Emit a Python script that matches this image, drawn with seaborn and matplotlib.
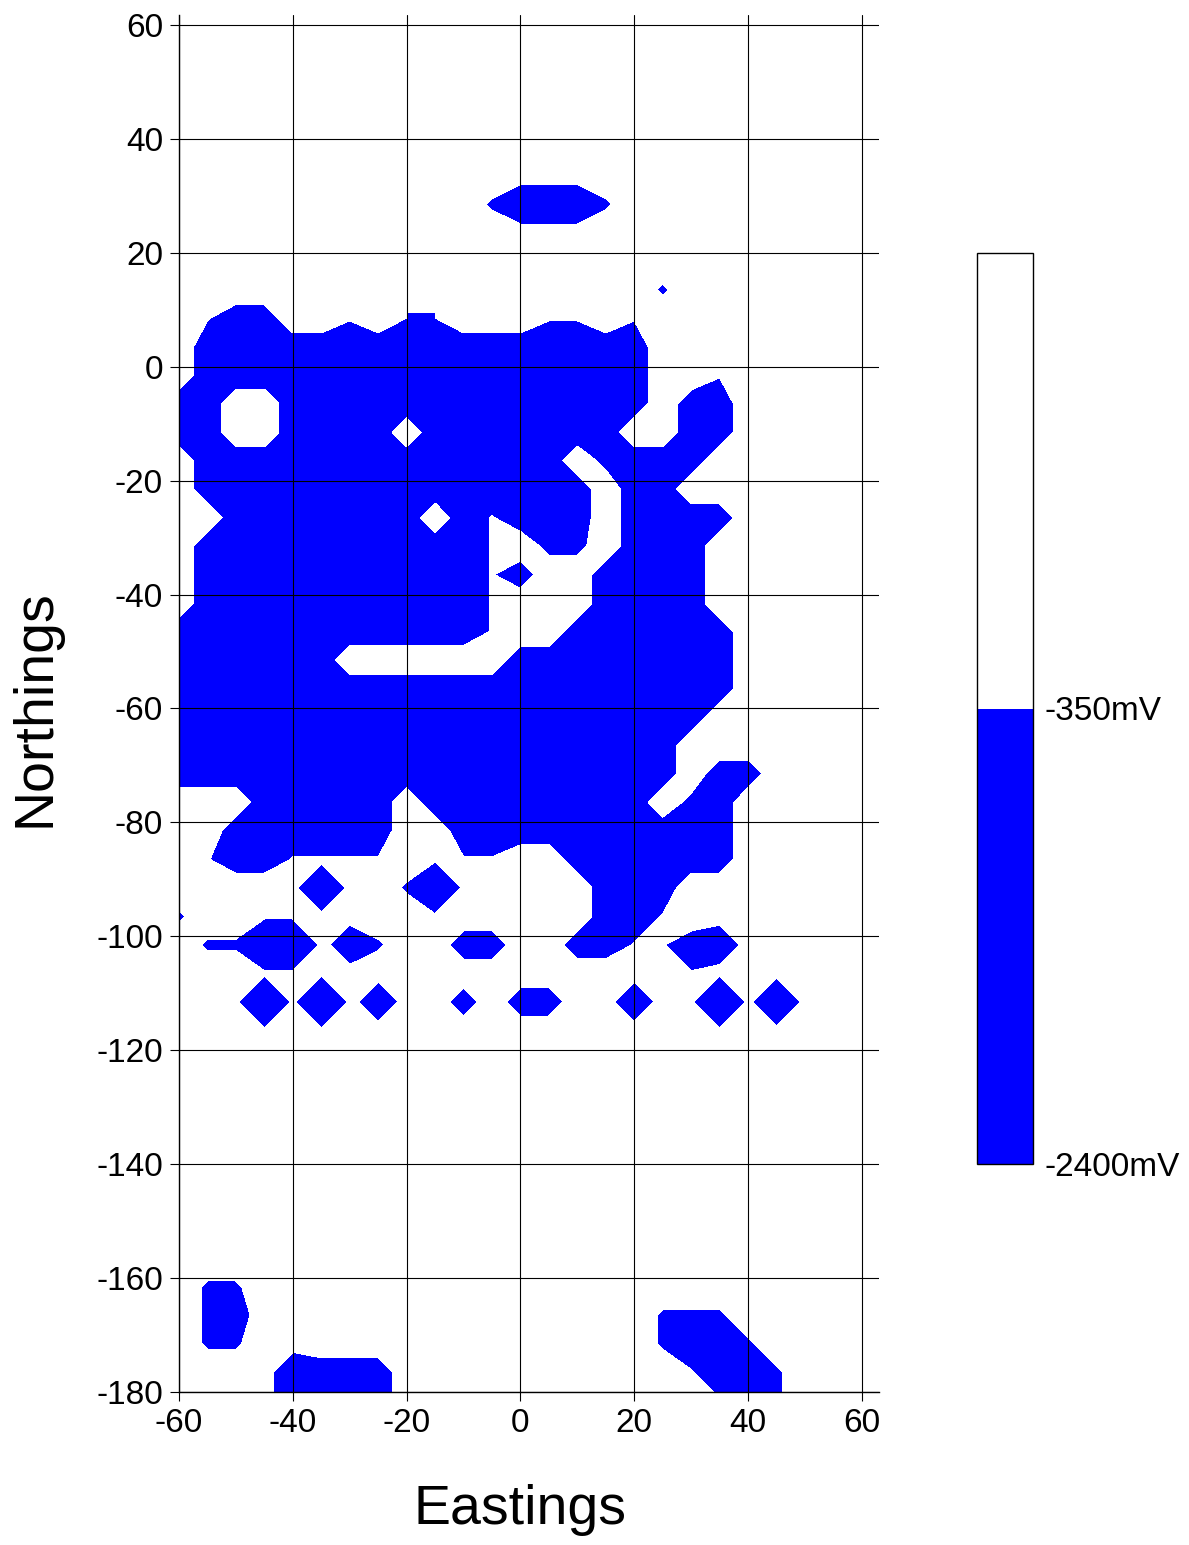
import numpy as np
import matplotlib
matplotlib.use("Agg")
import matplotlib.pyplot as plt
import seaborn as sns

# survey grid (m)
x_east = [-60, -55, -50, -45, -40, -35, -30, -25, -20, -15, -10, -5,
          0, 5, 10, 15, 20, 25, 30, 35, 40, 45, 50]
y_north = [33.5, 28.5, 23.5, 18.5, 13.5, 8.5, 3.5, -1.5, -6.5, -11.5,
           -16.5, -21.5, -26.5, -31.5, -36.5, -41.5, -46.5, -51.5, -56.5,
           -61.5, -66.5, -71.5, -76.5, -81.5, -86.5, -91.5, -96.5, -101.5,
           -106.5, -111.5, -116.5, -121.5, -126.5, -131.5, -136.5, -141.5,
           -146.5, -151.5, -156.5, -161.5, -166.5, -171.5, -176.5, -181.5]

# potential class per grid node, one string per northing (west -> east)
potential_codes = [
    ".......................",
    "...........-+++-.......",
    ".......................",
    ".......................",
    "ooooo............-.....",
    "o.##oo.o--ooo..o.......",
    "o################o.....",
    "o################oo....",
    "##oo#############o##ooo",
    "##oo####o#######oo##ooo",
    "o#############oX###oooo",
    "o##############o##ooooo",
    "oo#######o#.###o####ooo",
    "o##########.oXXo###oooo",
    "o##########.#oo####oooo",
    "o##########.ooo####oooo",
    "###########.oo######ooo",
    "######oooooo########ooo",
    "####################ooo",
    "###################oooo",
    "##################ooooo",
    "##################o##oo",
    "ooo#####o########oX#ooo",
    ".o######oo##########o..",
    "..##........oo######o..",
    "..oo.X..-#....o###oo...",
    "-.............o##.o....",
    ".--##.+-..::.o##..#+...",
    "..............oo.......",
    "...#.#.+..:.::..+..#.X.",
    ".......................",
    ".......................",
    ".......................",
    ".......................",
    ".......................",
    ".......................",
    ".......................",
    ".......................",
    ".......................",
    ".--....................",
    ".-:..............---...",
    ".--..............-##-..",
    "....+:::...........##-.",
    "....+:::............#-.",
]

# mV value for each class
code_mv = {"#": -2400, "X": -1400, "+": -800, ":": -550, "-": -400,
           ".": -150, "o": 1800}

levels = [-2400, -350, 2000]
level_colors = ["blue", "white"]

z = np.array([[code_mv[c] for c in row] for row in potential_codes], dtype=float)

sns.set_style("ticks")
plt.rcParams["font.family"] = ["Liberation Sans", "DejaVu Sans"]
plt.rcParams["axes.unicode_minus"] = False
for key in ["text.color", "axes.labelcolor", "xtick.color", "ytick.color"]:
    plt.rcParams[key] = "black"

fig = plt.figure(figsize=(11.89, 15.45), dpi=100)
ax = fig.add_axes([179 / 1189, 1 - 1392 / 1545, 700 / 1189, 1377 / 1545])

cs = ax.contourf(x_east, y_north, z, levels=levels, colors=level_colors)

# grid runs a little past the last labelled values, as in the original
ax.set_xlim(-60, 63)
ax.set_ylim(-180, 61.75)
ax.set_xticks(np.arange(-60, 61, 20))
ax.set_yticks(np.arange(-180, 61, 20))
ax.grid(True, color="black", linewidth=0.8)
ax.set_axisbelow(False)
for side in ["top", "right"]:
    ax.spines[side].set_visible(False)
for side in ["left", "bottom"]:
    ax.spines[side].set_linewidth(1.0)
    ax.spines[side].set_color("black")
ax.tick_params(direction="out", length=6.5, width=0.8, labelsize=24,
               colors="black", pad=5)

fig.text(520 / 1189, 1 - 1510 / 1545, "Eastings", fontsize=40,
         ha="center", va="center")
fig.text(35 / 1189, 1 - 708 / 1545, "Northings", fontsize=40,
         rotation=90, ha="center", va="center")

# colour scale
cax = fig.add_axes([977 / 1189, 1 - 1164 / 1545, 56 / 1189, 911 / 1545])
cbar = fig.colorbar(cs, cax=cax)
cbar.set_ticks([-2400, -350])
cbar.set_ticklabels(["-2400mV", "-350mV"])
cbar.ax.tick_params(length=0, labelsize=24, pad=8)
cbar.outline.set_linewidth(1)
cbar.outline.set_edgecolor("black")

fig.savefig("out.png", dpi=100)
